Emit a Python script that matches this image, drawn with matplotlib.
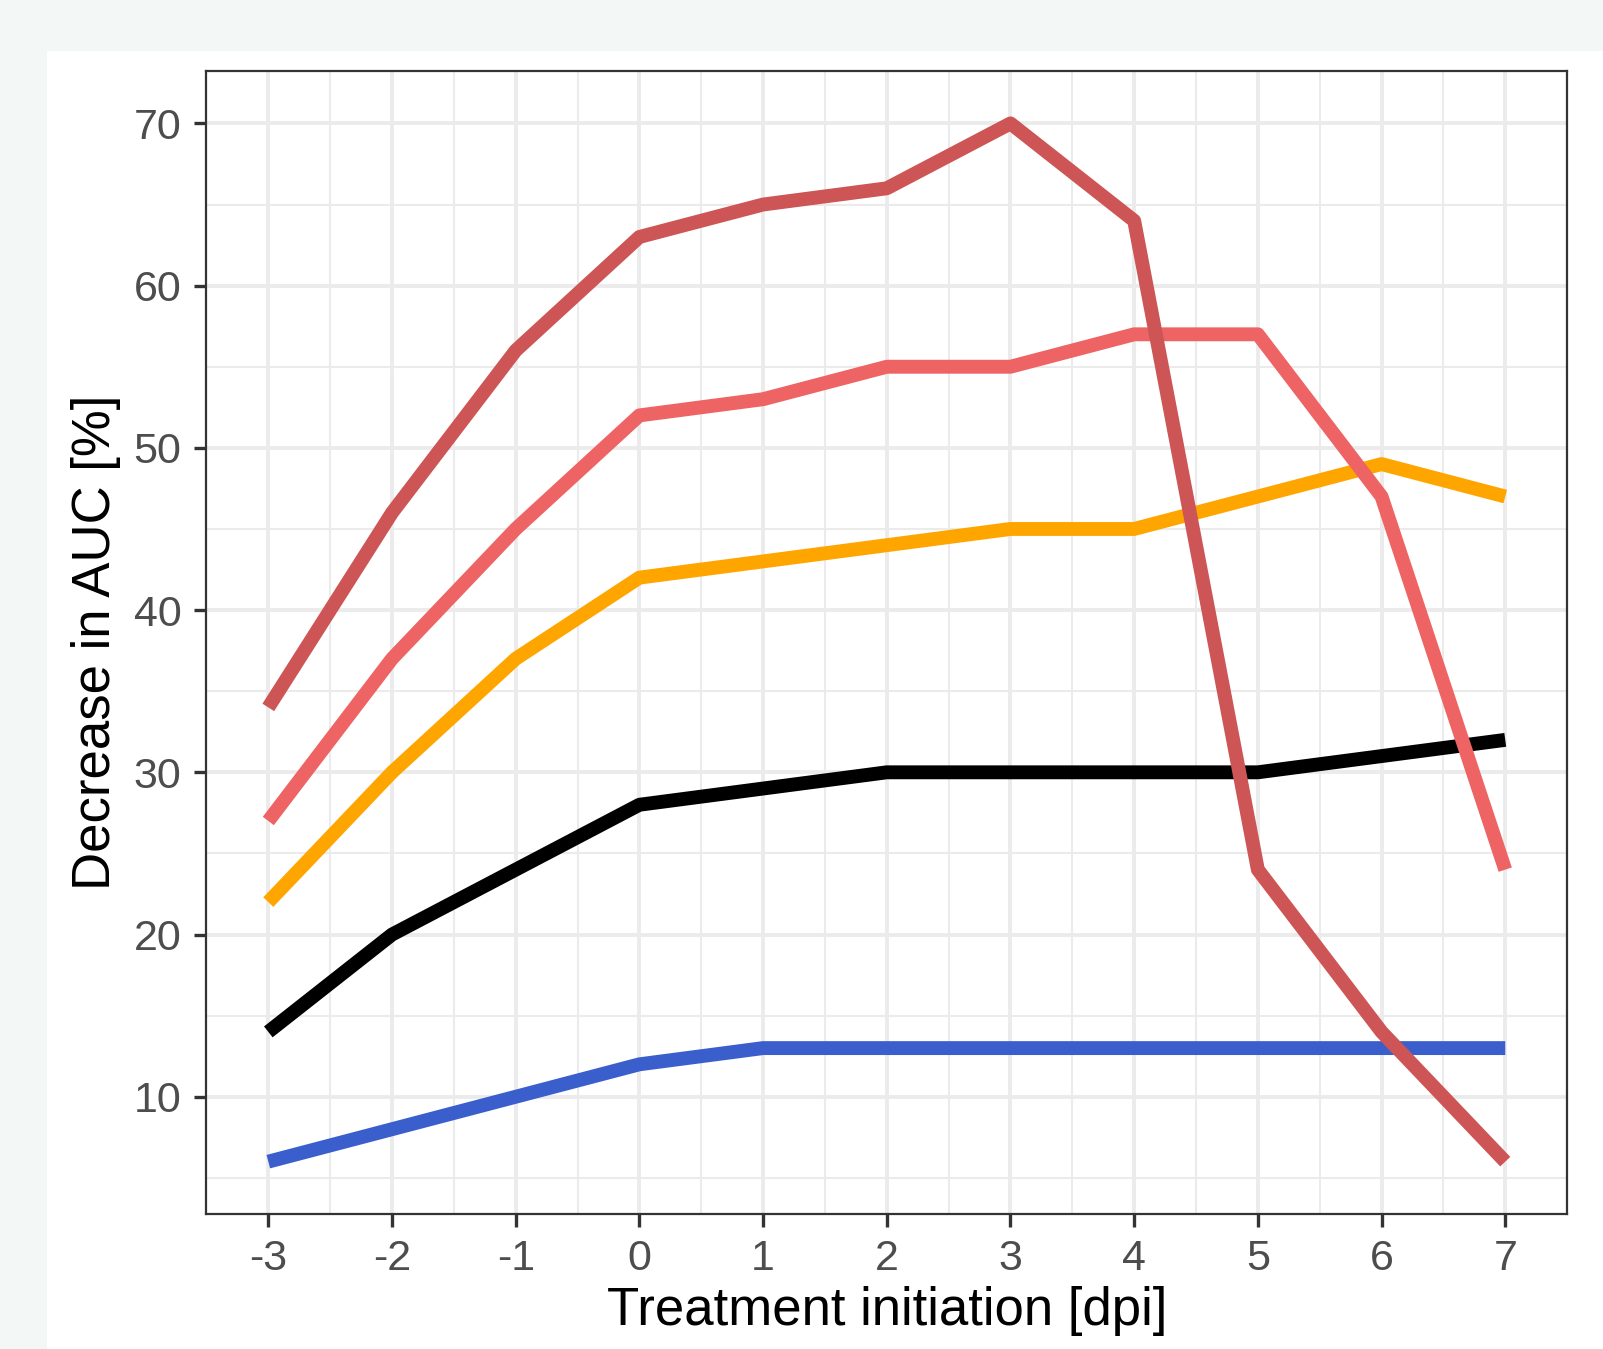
import matplotlib
matplotlib.use("Agg")
import matplotlib.pyplot as plt
from matplotlib.patches import Rectangle

# treatment start day vs decrease in AUC, one list per curve
days = [-3, -2, -1, 0, 1, 2, 3, 4, 5, 6, 7]
dark_red = [34, 46, 56, 63, 65, 66, 70, 64, 24, 14, 6]
light_red = [27, 37, 45, 52, 53, 55, 55, 57, 57, 47, 24]
orange = [22, 30, 37, 42, 43, 44, 45, 45, 47, 49, 47]
black = [14, 20, 24, 28, 29, 30, 30, 30, 30, 31, 32]
blue = [6, 8, 10, 12, 13, 13, 13, 13, 13, 13, 13]

x_ticks = [-3, -2, -1, 0, 1, 2, 3, 4, 5, 6, 7]
y_ticks = [10, 20, 30, 40, 50, 60, 70]

plt.rcParams['font.family'] = ['Liberation Sans', 'DejaVu Sans']

fig = plt.figure(figsize=(16.03, 13.49), dpi=100)
fig.patch.set_facecolor('#f3f8f6')
# white card behind the plot
card = Rectangle((47 / 1603, 0), 1 - 47 / 1603, 1 - 51 / 1349,
                 transform=fig.transFigure, facecolor='white',
                 edgecolor='none', zorder=-10)
fig.add_artist(card)

ax = fig.add_axes([0.1288, 0.1004, 0.8488, 0.8466])
ax.set_facecolor('white')

lw = 10
ax.plot(days, blue, color='#3a5fcd', lw=lw, solid_capstyle='butt', zorder=3)
ax.plot(days, black, color='black', lw=lw, solid_capstyle='butt', zorder=3)
ax.plot(days, orange, color='#ffa500', lw=lw, solid_capstyle='butt', zorder=3)
ax.plot(days, light_red, color='#ee6363', lw=lw, solid_capstyle='butt', zorder=3)
ax.plot(days, dark_red, color='#cd5555', lw=lw, solid_capstyle='butt', zorder=3)

ax.set_xlim(-3.5, 7.5)
ax.set_ylim(2.8, 73.2)
ax.set_xticks(x_ticks)
ax.set_xticklabels([str(v) for v in x_ticks])
ax.set_yticks(y_ticks)
ax.set_xticks([v + 0.5 for v in x_ticks[:-1]], minor=True)
ax.set_yticks([5, 15, 25, 35, 45, 55, 65], minor=True)

ax.grid(which='major', color='#ebebeb', lw=2.8, zorder=0)
ax.grid(which='minor', color='#ebebeb', lw=1.5, zorder=0)
ax.set_axisbelow(True)

for s in ax.spines.values():
    s.set_color('#333333')
    s.set_linewidth(1.6)

ax.tick_params(which='major', length=9, width=2.4, color='#333333',
               labelsize=31, labelcolor='#4d4d4d', pad=9)
ax.tick_params(which='minor', length=0)

ax.set_xlabel('Treatment initiation [dpi]', fontsize=38, color='black', labelpad=5)
ax.set_ylabel('Decrease in AUC [%]', fontsize=38, color='black', labelpad=9)

fig.savefig('out.png', dpi=100, facecolor=fig.get_facecolor())
